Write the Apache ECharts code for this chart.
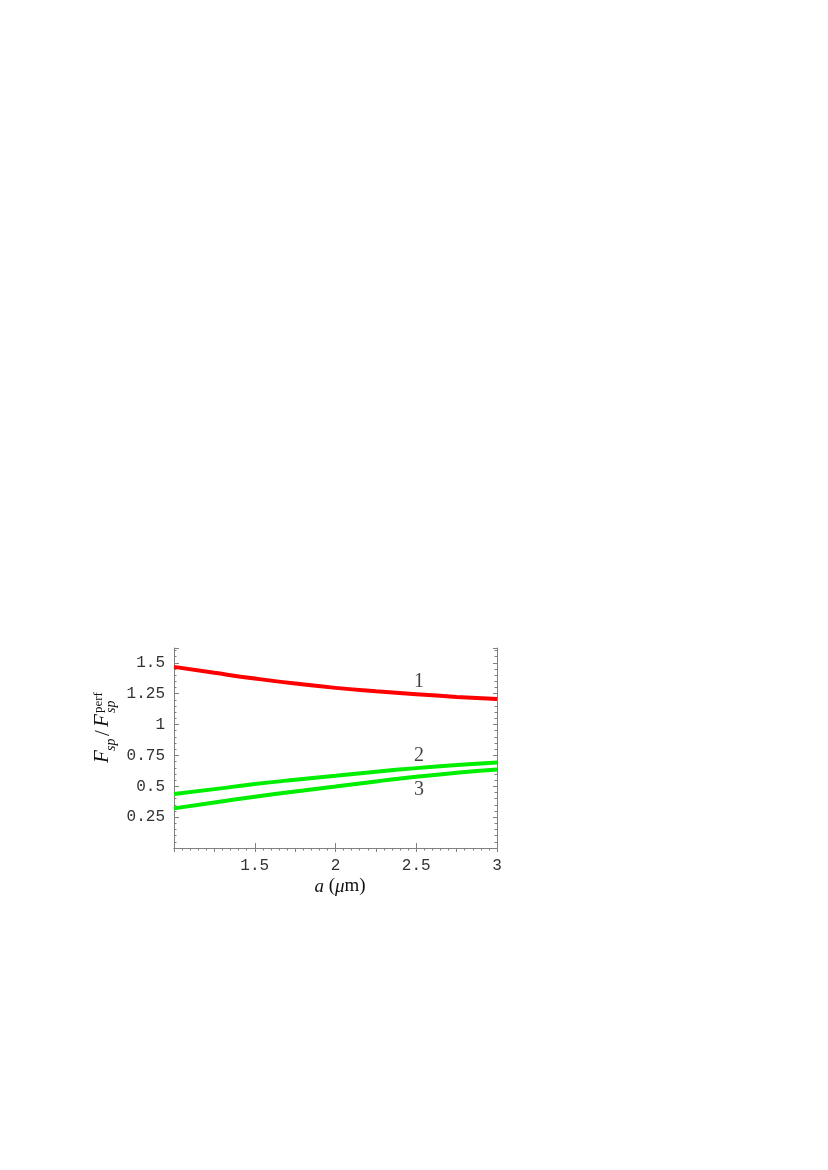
<!DOCTYPE html>
<html>
<head>
<meta charset="utf-8">
<title>F_sp / F_sp^perf vs a</title>
<script src="https://cdn.jsdelivr.net/npm/echarts@6/dist/echarts.min.js"></script>
<style>
  html, body { margin: 0; padding: 0; background: #fff; }
  #element { width: 828px; height: 1170px; }
</style>
</head>
<body>
<div id="element"></div>
<script>
// separation a in micrometres
const aValues = [1, 1.25, 1.5, 1.75, 2, 2.25, 2.5, 2.75, 3];
// curve 1 (red), curves 2 and 3 (green)
const curve1 = [1.467, 1.419, 1.373, 1.332, 1.297, 1.270, 1.246, 1.224, 1.206];
const curve2 = [0.437, 0.477, 0.518, 0.553, 0.585, 0.618, 0.647, 0.672, 0.693];
const curve3 = [0.321, 0.369, 0.415, 0.458, 0.499, 0.539, 0.577, 0.609, 0.636];
// curve number labels: [a, value, text]
const curveLabels = [[2.517, 1.345, '1'], [2.517, 0.744, '2'], [2.517, 0.469, '3']];
const xTicks = [1.5, 2, 2.5, 3];
const yTicks = [0.25, 0.5, 0.75, 1, 1.25, 1.5];

const myEcharts = echarts.init(document.getElementById('element'));

const frame = { show: true, lineStyle: { color: '#808080', width: 1 } };
const tickLine = { color: '#808080', width: 1 };
const monoLabel = { fontFamily: 'Liberation Mono', fontSize: 16, color: '#333' };

function pairs(ys) {
	return aValues.map((a, i) => [a, ys[i]]);
}
function onTick(list, v) {
	return list.some(t => Math.abs(t - v) < 1e-6);
}

const grid = { left: 174, right: 331, top: 648, bottom: 322 };

const option = {
	animation: false,
	grid: grid,
	xAxis: [
		{
			type: 'value', min: 1, max: 3, interval: 0.5,
			axisLine: frame,
			axisTick: { show: true, inside: true, length: 5, lineStyle: tickLine },
			minorTick: { show: false },
			splitLine: { show: false },
			axisLabel: Object.assign({ margin: 10, formatter: v => onTick(xTicks, v) ? String(v) : '' }, monoLabel),
			name: '{i|a} ({i|μ}m)',
			nameLocation: 'middle',
			nameGap: 29,
			nameTextStyle: {
				fontFamily: 'Liberation Serif', fontSize: 19, color: '#111', padding: [0, 0, 0, 9],
				rich: { i: { fontFamily: 'Liberation Serif', fontStyle: 'italic', fontSize: 19, color: '#111' } }
			}
		},
		{
			type: 'value', min: 1, max: 3, interval: 0.25, position: 'top',
			axisLine: frame,
			axisTick: { show: true, inside: true, length: 4, lineStyle: tickLine },
			minorTick: { show: true, splitNumber: 5, length: 2.5, lineStyle: tickLine },
			splitLine: { show: false },
			axisLabel: { show: false }
		}
	],
	yAxis: [
		{
			type: 'value', min: 0, max: 1.62, interval: 0.25,
			axisLine: frame,
			axisTick: { show: true, inside: true, length: 5, lineStyle: tickLine },
			minorTick: { show: true, splitNumber: 5, length: 2.5, lineStyle: tickLine },
			splitLine: { show: false },
			axisLabel: Object.assign({ margin: 9, formatter: v => onTick(yTicks, v) ? String(v) : '' }, monoLabel)
		},
		{
			type: 'value', min: 0, max: 1.62, interval: 0.25, position: 'right',
			axisLine: frame,
			axisTick: { show: true, inside: true, length: 4, lineStyle: tickLine },
			minorTick: { show: true, splitNumber: 5, length: 2.5, lineStyle: tickLine },
			splitLine: { show: false },
			axisLabel: { show: false }
		}
	],
	series: [
		{
			type: 'line', name: '1', data: pairs(curve1), smooth: true, showSymbol: false,
			lineStyle: { color: '#ff0000', width: 4 }, z: 3
		},
		{
			type: 'line', name: '2', data: pairs(curve2), smooth: true, showSymbol: false,
			lineStyle: { color: '#00ee00', width: 4 }, z: 3
		},
		{
			type: 'line', name: '3', data: pairs(curve3), smooth: true, showSymbol: false,
			lineStyle: { color: '#00ee00', width: 4 }, z: 3
		},
		{
			type: 'scatter', name: 'labels', symbolSize: 0, silent: true,
			data: curveLabels.map(d => ({ value: [d[0], d[1]], label: { formatter: d[2] } })),
			label: {
				show: true, position: 'inside',
				fontFamily: 'Liberation Serif', fontSize: 20, color: '#111'
			}
		}
	],
	graphic: [
		{
			type: 'group',
			x: 113, y: 726,
			rotation: Math.PI / 2,
			children: [
				{ type: 'text', x: -37, y: 0, style: { text: 'F', font: 'italic 21px "Liberation Serif"', fill: '#111', textVerticalAlign: 'bottom' } },
				{ type: 'text', x: -25, y: 5, style: { text: 'sp', font: 'italic 14px "Liberation Serif"', fill: '#111', textVerticalAlign: 'bottom' } },
				{ type: 'text', x: -10, y: 1, style: { text: '/', font: '21px "Liberation Serif"', fill: '#111', textVerticalAlign: 'bottom' } },
				{ type: 'text', x: -1, y: 0, style: { text: 'F', font: 'italic 21px "Liberation Serif"', fill: '#111', textVerticalAlign: 'bottom' } },
				{ type: 'text', x: 13, y: -8, style: { text: 'perf', font: '13px "Liberation Serif"', fill: '#111', textVerticalAlign: 'bottom' } },
				{ type: 'text', x: 13, y: 5, style: { text: 'sp', font: 'italic 14px "Liberation Serif"', fill: '#111', textVerticalAlign: 'bottom' } }
			]
		}
	]
};

myEcharts.setOption(option);
</script>
</body>
</html>
